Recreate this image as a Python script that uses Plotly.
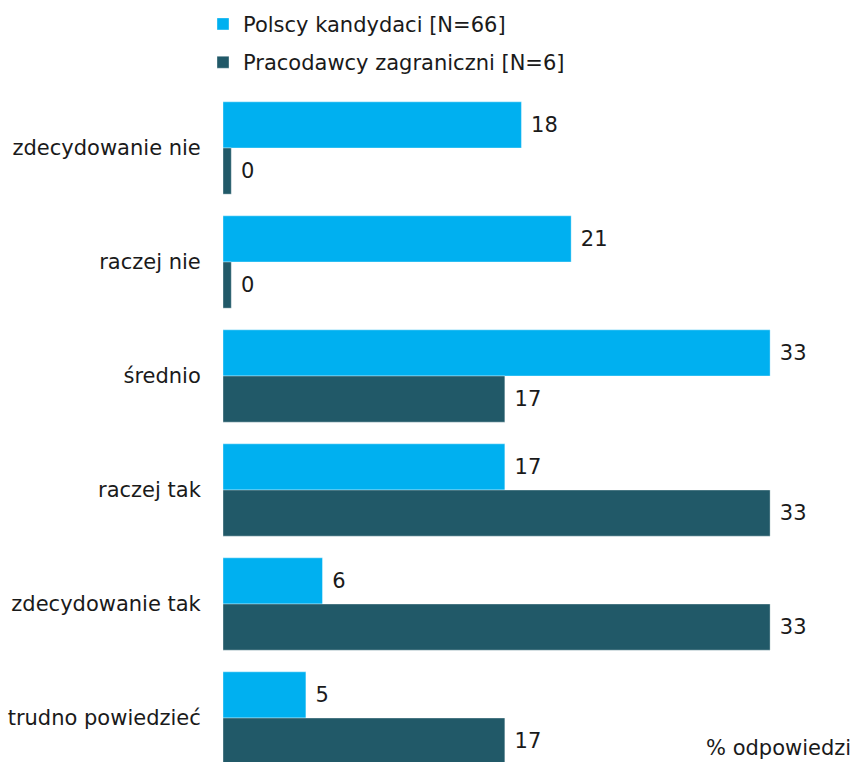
import plotly.graph_objects as go

categories = ["zdecydowanie nie", "raczej nie", "średnio", "raczej tak",
              "zdecydowanie tak", "trudno powiedzieć"]
polscy_kandydaci = [18, 21, 33, 17, 6, 5]
pracodawcy_zagraniczni = [0, 0, 17, 33, 33, 17]

series_names = ["Polscy kandydaci [N=66]", "Pracodawcy zagraniczni [N=6]"]
series_colors = ["#00B0F0", "#215968"]

# zero values still get a thin stub so the bar position stays visible
MIN_VISIBLE = 0.5

FONT = "DejaVu Sans"
FONT_SIZE = 21
TEXT_COLOR = "#1a1a1a"

fig = go.Figure()
for i, (name, values, color) in enumerate(
        zip(series_names, [polscy_kandydaci, pracodawcy_zagraniczni], series_colors)):
    fig.add_trace(go.Bar(
        y=categories,
        x=[max(v, MIN_VISIBLE) for v in values],
        orientation="h",
        name=name,
        legendgroup=f"g{i}",
        marker=dict(color=color, line=dict(color="rgba(255,255,255,0.6)", width=0.6)),
        text=[str(v) for v in values],
        texttemplate=" %{text}",
        textposition="outside",
        cliponaxis=False,
        textfont=dict(family=FONT, size=FONT_SIZE, color=TEXT_COLOR),
        hoverinfo="skip",
    ))

fig.update_layout(
    width=854,
    height=762,
    margin=dict(l=223, r=1, t=91, b=0),
    barmode="group",
    bargap=0.19,
    bargroupgap=0,
    plot_bgcolor="white",
    paper_bgcolor="white",
    font=dict(family=FONT, size=FONT_SIZE, color=TEXT_COLOR),
    showlegend=True,
    legend=dict(
        x=-20 / 630, xanchor="left",
        y=1.13, yanchor="top",
        orientation="v",
        tracegroupgap=8,
        bgcolor="rgba(0,0,0,0)",
        font=dict(family=FONT, size=FONT_SIZE, color=TEXT_COLOR),
    ),
    xaxis=dict(
        range=[0, 38],
        showgrid=False,
        zeroline=False,
        showticklabels=False,
        showline=False,
        fixedrange=True,
    ),
    yaxis=dict(
        categoryorder="array",
        categoryarray=categories,
        range=[5.386, -0.5],
        showgrid=False,
        zeroline=False,
        showline=False,
        ticks="outside",
        ticklen=17,
        tickcolor="rgba(0,0,0,0)",
        tickfont=dict(family=FONT, size=FONT_SIZE, color=TEXT_COLOR),
        fixedrange=True,
    ),
)

fig.add_annotation(
    text="% odpowiedzi",
    xref="paper", yref="paper",
    x=1.0, y=0.0,
    xanchor="right", yanchor="bottom",
    showarrow=False,
    font=dict(family=FONT, size=FONT_SIZE, color=TEXT_COLOR),
)

fig.write_html("out.html")
